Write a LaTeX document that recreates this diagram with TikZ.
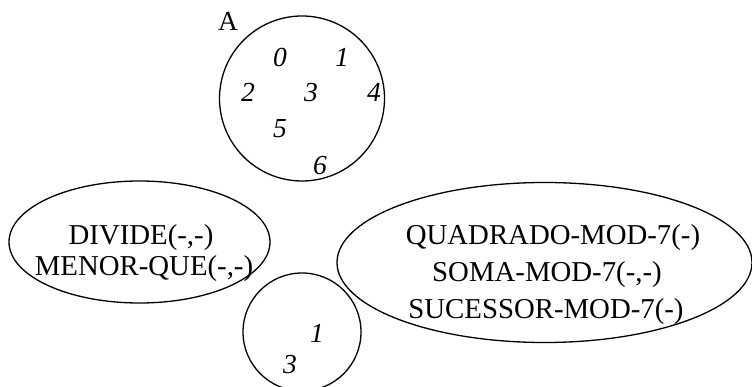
\documentclass[tikz,border=0pt]{standalone}
\usepackage{fontspec}
\setmainfont{Liberation Serif}
\usetikzlibrary{shapes.geometric}
\tikzset{
  shapeline/.style={draw=black, line width=1.3pt},
  txt/.style={anchor=base, inner sep=0pt, font=\fontsize{28.8}{30}\selectfont},
  num/.style={anchor=base, inner sep=0pt, font=\fontsize{27.5}{30}\selectfont\itshape},
}
\begin{document}
\begin{tikzpicture}[x=1pt,y=-1pt]
\useasboundingbox (0,0) rectangle (752,387);
% set A
\draw[shapeline] (302,98.5) circle (82.5);
\node[txt, font=\fontsize{27.5}{30}\selectfont] (lblA) at (228,31) {A};
\node[num] (a0) at (280,67) {0};
\node[num] (a1) at (342,67) {1};
\node[num] (a2) at (248,102) {2};
\node[num] (a3) at (311,102) {3};
\node[num] (a4) at (374,102) {4};
\node[num] (a5) at (280,138) {5};
\node[num] (a6) at (320,175) {6};
% relations ellipse
\draw[shapeline] (139.5,242) ellipse (130.5 and 61);
\node[txt] (divide) at (141,245) {DIVIDE(-,-)};
\node[txt] (menor) at (144,276) {MENOR-QUE(-,-)};
% functions ellipse
\draw[shapeline] (544.5,262.5) ellipse (207.5 and 80);
\node[txt] (quad) at (553,245) {QUADRADO-MOD-7(-)};
\node[txt] (soma) at (547,281) {SOMA-MOD-7(-,-)};
\node[txt] (suc) at (546,318) {SUCESSOR-MOD-7(-)};
% constants circle
\draw[shapeline] (302,332) circle (59);
\node[num] (c1) at (317,342) {1};
\node[num] (c3) at (290,373) {3};
\end{tikzpicture}
\end{document}
